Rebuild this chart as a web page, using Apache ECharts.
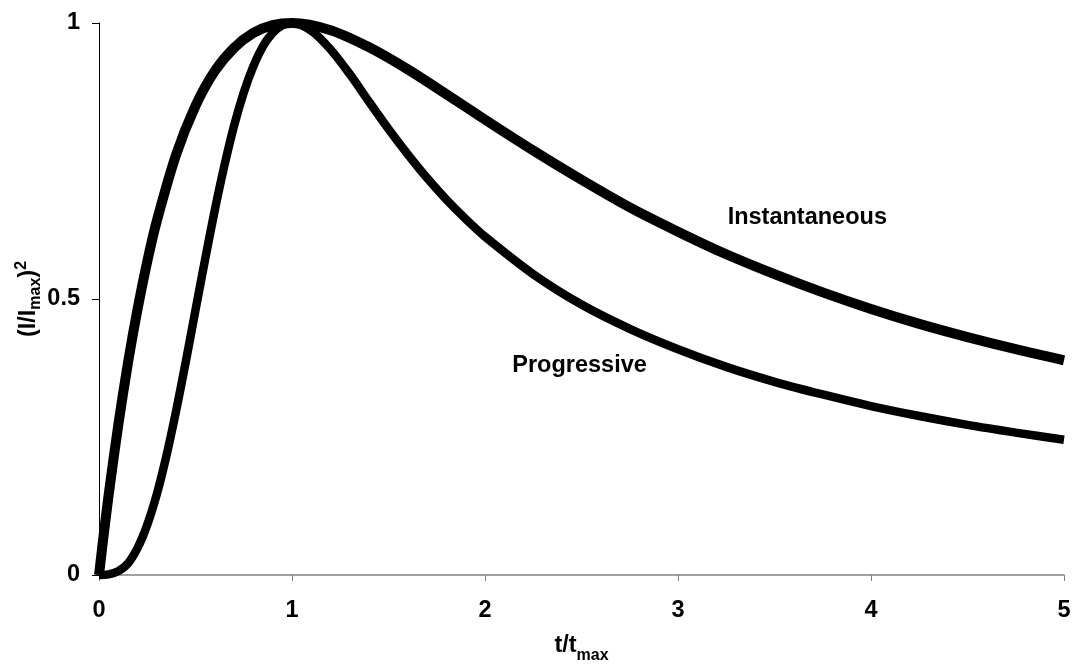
<!DOCTYPE html>
<html>
<head>
<meta charset="utf-8">
<script src="https://cdn.jsdelivr.net/npm/echarts@6/dist/echarts.min.js"></script>
<style>
  html, body { margin: 0; padding: 0; background: #fff; }
  #chart { width: 1080px; height: 669px; }
</style>
</head>
<body>
<div id="chart"></div>
<script>
// Normalised current transients, (I/Imax)^2 versus t/tmax
const instT = [0, 0.02, 0.05, 0.1, 0.15, 0.2, 0.25, 0.3, 0.4, 0.5, 0.6, 0.7, 0.8, 0.9, 1.0,
  1.2, 1.4, 1.6, 1.8, 2.0, 2.25, 2.5, 2.75, 3.0, 3.25, 3.5, 3.75, 4.0, 4.25, 4.5, 4.75, 5.0];
const instY = [0, 0.060, 0.145, 0.272, 0.384, 0.482, 0.568, 0.642, 0.762, 0.850, 0.913, 0.955, 0.982, 0.996, 1.000,
  0.987, 0.956, 0.916, 0.871, 0.825, 0.769, 0.716, 0.666, 0.622, 0.581, 0.545, 0.512, 0.482, 0.455, 0.431, 0.409, 0.389];

const progT = [0, 0.05, 0.1, 0.15, 0.2, 0.25, 0.3, 0.35, 0.4, 0.45, 0.5, 0.55, 0.6, 0.65, 0.7, 0.75, 0.8, 0.85, 0.9, 0.95, 1.0,
  1.1, 1.2, 1.3, 1.4, 1.5, 1.6, 1.7, 1.8, 1.9, 2.0, 2.25, 2.5, 2.75, 3.0, 3.25, 3.5, 3.75, 4.0, 4.25, 4.5, 4.75, 5.0];
const progY = [0, 0.001, 0.007, 0.021, 0.049, 0.091, 0.147, 0.217, 0.298, 0.387, 0.480, 0.572, 0.661, 0.742, 0.814, 0.874, 0.922, 0.958, 0.982, 0.996, 1.000,
  0.986, 0.952, 0.907, 0.857, 0.808, 0.762, 0.719, 0.680, 0.645, 0.613, 0.545, 0.490, 0.446, 0.409, 0.377, 0.350, 0.327, 0.306, 0.288, 0.272, 0.258, 0.245];

const xTicks = [0, 1, 2, 3, 4, 5];
const yTicks = [0, 0.5, 1];

// Curve captions and where they sit, in axis units
const curveNames = ['Instantaneous', 'Progressive'];
const captionAt = [[3.67, 0.647], [2.49, 0.379]];

const FONT = '"Liberation Sans", Arial, sans-serif';
const zip = (xs, ys) => xs.map((x, i) => [x, ys[i]]);

const chart = echarts.init(document.getElementById('chart'), null, { renderer: 'canvas' });

const caption = (i) => ({
  silent: true,
  symbol: 'circle',
  symbolSize: 0,
  data: [{ coord: captionAt[i], value: curveNames[i] }],
  label: {
    show: true,
    position: 'inside',
    formatter: curveNames[i],
    color: '#000',
    fontFamily: FONT,
    fontWeight: 'bold',
    fontSize: 23.5
  }
});

chart.setOption({
  animation: false,
  backgroundColor: '#fff',
  grid: { left: 99, right: 16, top: 23, bottom: 94, containLabel: false },
  xAxis: {
    type: 'value',
    min: xTicks[0],
    max: xTicks[xTicks.length - 1],
    interval: 1,
    name: '{a|t/t}{sub|max}',
    nameLocation: 'middle',
    nameGap: 59,
    nameMoveOverlap: false,
    nameTextStyle: {
      rich: {
        a: { fontFamily: FONT, fontWeight: 'bold', fontSize: 23.5, color: '#000', lineHeight: 30, verticalAlign: 'top' },
        sub: { fontFamily: FONT, fontWeight: 'bold', fontSize: 16, color: '#000', lineHeight: 16, verticalAlign: 'bottom' }
      }
    },
    axisLine: { show: true, onZero: false, lineStyle: { color: '#808080', width: 1.5 } },
    axisTick: { show: true, inside: false, length: 6, lineStyle: { color: '#808080', width: 1 } },
    axisLabel: {
      margin: 24,
      color: '#000',
      fontFamily: FONT,
      fontWeight: 'bold',
      fontSize: 23.5
    },
    splitLine: { show: false }
  },
  yAxis: {
    type: 'value',
    min: yTicks[0],
    max: yTicks[yTicks.length - 1],
    interval: 0.5,
    name: '{a|(I/I}{sub|max}{a|)}{sup|2}',
    nameLocation: 'middle',
    nameGap: 55,
    nameRotate: 90,
    nameMoveOverlap: false,
    nameTextStyle: {
      rich: {
        a: { fontFamily: FONT, fontWeight: 'bold', fontSize: 23.5, color: '#000', lineHeight: 30, verticalAlign: 'middle' },
        sub: { fontFamily: FONT, fontWeight: 'bold', fontSize: 16, color: '#000', lineHeight: 16, verticalAlign: 'bottom' },
        sup: { fontFamily: FONT, fontWeight: 'bold', fontSize: 16, color: '#000', lineHeight: 16, verticalAlign: 'top' }
      }
    },
    axisLine: { show: true, onZero: false, lineStyle: { color: '#000', width: 1 } },
    axisTick: { show: true, inside: false, length: 7, lineStyle: { color: '#000', width: 1 } },
    axisLabel: {
      margin: 19,
      color: '#000',
      fontFamily: FONT,
      fontWeight: 'bold',
      fontSize: 23.5
    },
    splitLine: { show: false }
  },
  series: [
    {
      name: curveNames[0],
      type: 'line',
      data: zip(instT, instY),
      smooth: 0.3,
      symbol: 'none',
      clip: false,
      lineStyle: { color: '#000', width: 10 },
      markPoint: caption(0)
    },
    {
      name: curveNames[1],
      type: 'line',
      data: zip(progT, progY),
      smooth: 0.3,
      symbol: 'none',
      clip: false,
      lineStyle: { color: '#000', width: 8.5 },
      markPoint: caption(1)
    }
  ]
});
</script>
</body>
</html>
